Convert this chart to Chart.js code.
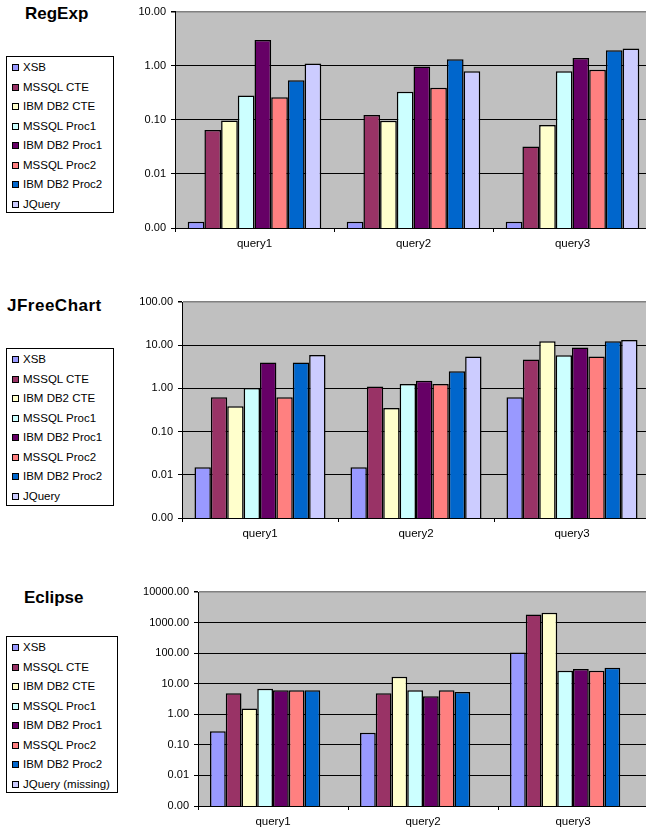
<!DOCTYPE html>
<html>
<head>
<meta charset="utf-8">
<script src="https://cdn.jsdelivr.net/npm/chart.js@4/dist/chart.umd.min.js"></script>
<style>
  html, body { margin: 0; padding: 0; overflow: hidden; background: #fff; }
  body { width: 646px; height: 832px; position: relative; font-family: 'Liberation Sans', Arial, sans-serif; }
  canvas { position: absolute; left: 0; }
  .title { position: absolute; font-weight: bold; font-size: 17px; line-height: 17px; color: #000; }
  .legend { position: absolute; left: 6px; border: 1px solid #000; box-sizing: border-box; padding-top: 1px; font-size: 11.5px; color: #000; }
  .legend div { height: 19.5px; line-height: 19.5px; white-space: nowrap; }
  .legend span { display: inline-block; width: 5px; height: 5px; border: 1px solid #000; margin: 0 4px 0 5px; }
</style>
</head>
<body>
<div class="title" style="left:25px;top:5px">RegExp</div>
<div class="legend" id="legend1" style="top:56px;width:108px;height:157px"></div>
<canvas id="regexpChart" width="652" height="256" style="top:0px"></canvas>

<div class="title" style="left:7px;top:297px;letter-spacing:0.5px">JFreeChart</div>
<div class="legend" id="legend2" style="top:348px;width:108px;height:158px"></div>
<canvas id="jfreeChart" width="650" height="256" style="top:290px"></canvas>

<div class="title" style="left:24px;top:589px">Eclipse</div>
<div class="legend" id="legend3" style="top:636px;width:112px;height:157px"></div>
<canvas id="eclipseChart" width="648" height="252" style="top:580px"></canvas>

<script>
// Categories and series (shared by all three charts)
const categories = ['query1', 'query2', 'query3'];
const seriesNames = ['XSB', 'MSSQL CTE', 'IBM DB2 CTE', 'MSSQL Proc1', 'IBM DB2 Proc1', 'MSSQL Proc2', 'IBM DB2 Proc2', 'JQuery'];
const eclipseSeriesNames = ['XSB', 'MSSQL CTE', 'IBM DB2 CTE', 'MSSQL Proc1', 'IBM DB2 Proc1', 'MSSQL Proc2', 'IBM DB2 Proc2', 'JQuery (missing)'];
const seriesColors = ['#9999FF', '#993366', '#FFFFCC', '#CCFFFF', '#660066', '#FF8080', '#0066CC', '#CCCCFF'];

// One row per series, one value per query
const regexpValues = [
    [0.0013, 0.0013, 0.0013],
    [0.065, 0.123, 0.032],
    [0.097, 0.096, 0.08],
    [0.28, 0.33, 0.79],
    [3.0, 0.97, 1.39],
    [0.26, 0.39, 0.84],
    [0.54, 1.32, 1.93],
    [1.1, 0.79, 2.07]
];
const jfreeValues = [
    [0.015, 0.015, 0.62],
    [0.62, 1.1, 4.64],
    [0.385, 0.35, 12.3],
    [1.02, 1.26, 5.84],
    [4.0, 1.51, 8.9],
    [0.62, 1.26, 5.45],
    [4.0, 2.49, 12.3],
    [5.93, 5.45, 13.2]
];
const eclipseValues = [
    [0.28, 0.247, 104],
    [4.84, 4.84, 1830],
    [1.56, 17, 2080],
    [6.85, 6.08, 26.7],
    [6.08, 3.86, 30.3],
    [6.08, 6.08, 26.7],
    [6.08, 5.35, 33.5],
    [null, null, null]      // JQuery missing
];

// Decade tick labels for each y axis
const regexpTicks = [0.001, 0.01, 0.1, 1, 10];
const jfreeTicks = [0.001, 0.01, 0.1, 1, 10, 100];
const eclipseTicks = [0.001, 0.01, 0.1, 1, 10, 100, 1000, 10000];

Chart.defaults.font.family = "'Liberation Sans', Arial, sans-serif";
Chart.defaults.color = '#000';

// Grey plot area like the old spreadsheet charts
const plotBackground = {
    id: 'plotBackground',
    beforeDraw(chart) {
        const { ctx, chartArea } = chart;
        ctx.save();
        ctx.fillStyle = '#C0C0C0';
        ctx.fillRect(chartArea.left, chartArea.top, chartArea.right - chartArea.left, chartArea.bottom - chartArea.top);
        ctx.restore();
    }
};

function buildLegend(el, names) {
    names.forEach((name, i) => {
        const row = document.createElement('div');
        const box = document.createElement('span');
        box.style.background = seriesColors[i];
        row.appendChild(box);
        row.appendChild(document.createTextNode(name));
        el.appendChild(row);
    });
}

function makeChart(canvasId, values, names, ticks, plotLeft, padTop, xAxisHeight) {
    const maxTick = ticks[ticks.length - 1];
    return new Chart(document.getElementById(canvasId), {
        type: 'bar',
        data: {
            labels: categories,
            datasets: values.map((row, i) => ({
                label: names[i],
                data: row,
                backgroundColor: seriesColors[i],
                borderColor: '#000',
                borderWidth: 1.5
            }))
        },
        options: {
            responsive: false,
            animation: false,
            devicePixelRatio: 1,
            layout: { padding: { top: padTop, right: 0, left: 0, bottom: 0 } },
            datasets: { bar: { categoryPercentage: 0.84, barPercentage: 1 } },
            plugins: { legend: { display: false }, tooltip: { enabled: false } },
            scales: {
                x: {
                    grid: { display: true, drawOnChartArea: false, offset: true, tickLength: 4, color: '#000', tickColor: '#000' },
                    border: { color: '#000', width: 1 },
                    ticks: { font: { size: 11.5 }, padding: 5 },
                    afterFit(scale) { scale.height = xAxisHeight; }
                },
                y: {
                    type: 'logarithmic',
                    min: ticks[0],
                    max: maxTick,
                    grid: {
                        color: ctx => (ctx.tick && ctx.tick.value === maxTick) ? '#808080' : '#000',
                        lineWidth: ctx => (ctx.tick && ctx.tick.value === maxTick) ? 1.5 : 1,
                        tickColor: '#000',
                        tickLength: 4
                    },
                    border: { color: '#000', width: 1 },
                    ticks: {
                        font: { size: 11 },
                        padding: 5,
                        callback: v => Number(v).toFixed(2)
                    },
                    afterBuildTicks(scale) { scale.ticks = ticks.map(v => ({ value: v, major: true })); },
                    afterFit(scale) { scale.width = plotLeft; }
                }
            }
        },
        plugins: [plotBackground]
    });
}

buildLegend(document.getElementById('legend1'), seriesNames);
buildLegend(document.getElementById('legend2'), seriesNames);
buildLegend(document.getElementById('legend3'), eclipseSeriesNames);

makeChart('regexpChart', regexpValues, seriesNames, regexpTicks, 175, 10, 28);
makeChart('jfreeChart', jfreeValues, seriesNames, jfreeTicks, 182, 12, 28);
makeChart('eclipseChart', eclipseValues, eclipseSeriesNames, eclipseTicks, 198, 12, 26);
</script>
</body>
</html>
